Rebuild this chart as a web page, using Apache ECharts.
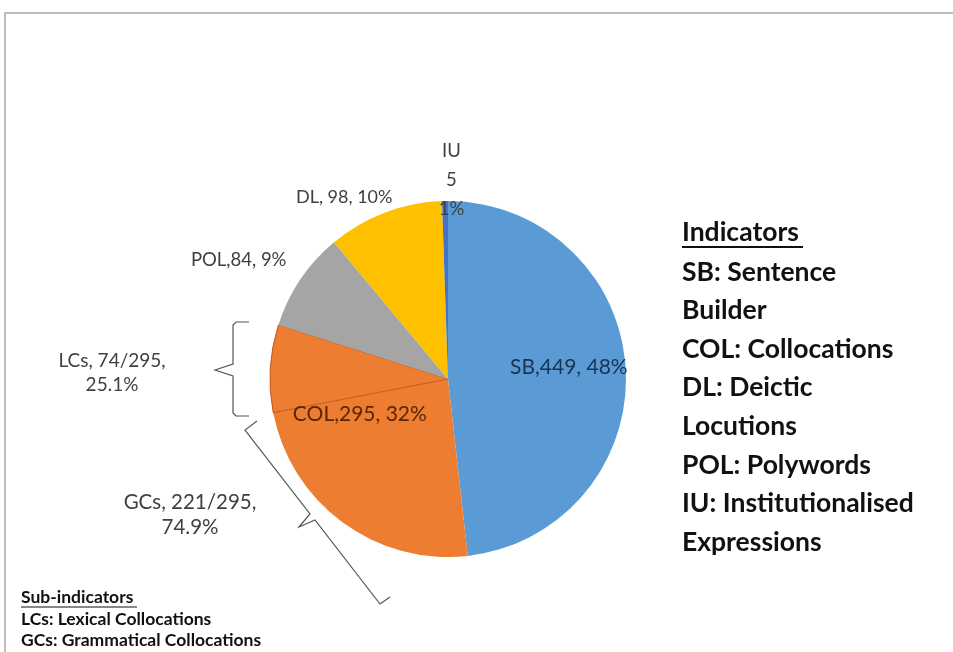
<!DOCTYPE html>
<html>
<head>
<meta charset="utf-8">
<script src="https://cdn.jsdelivr.net/npm/echarts@6/dist/echarts.min.js"></script>
<style>
  html, body { margin: 0; padding: 0; background: #fff; }
  #chart { width: 953px; height: 652px; }
</style>
</head>
<body>
<div id="chart"></div>
<script>
// ---- data ----
const categories = ['SB', 'COL', 'POL', 'DL', 'IU'];
const values = [449, 295, 84, 98, 5];
const percents = ['48%', '32%', '9%', '10%', '1%'];
const subCategories = ['GCs', 'LCs'];          // parts of COL, in drawing order
const subValues = [221, 74];
const subPercents = ['74.9%', '25.1%'];
const indicatorTitle = 'Indicators';
const indicatorLines = ['SB: Sentence', 'Builder', 'COL: Collocations', 'DL: Deictic',
  'Locutions', 'POL: Polywords', 'IU: Institutionalised', 'Expressions'];
const subIndicatorTitle = 'Sub-indicators';
const subIndicatorLines = ['LCs: Lexical Collocations', 'GCs: Grammatical Collocations'];

// ---- styles ----
const colors = ['#5b9bd5', '#ed7d31', '#a5a5a5', '#ffc000', '#4472c4'];
const labelColors = ['#1c3350', '#5a2606', '#404040', '#404040', '#404040'];
const labelSizes = [21, 21, 18.5, 18, 18.5];
const labelSeps = [[',', ', '], [',', ', '], [',', ', '], [', ', ', '], ['\n', '\n']];
const labelOffsets = [[29, -7], [-17, -23], [-133, -68], [-71, -96], [5, -107]];
const FONT = 'Lato, "Open Sans", sans-serif';
const center = [448, 379];
const radius = 178;

const totalCOL = values[categories.indexOf('COL')];

// base pie: COL split into its sub-indicators
const baseData = [];
categories.forEach((c, i) => {
  if (c === 'COL') {
    subCategories.forEach((s, j) => {
      baseData.push({
        name: s, value: subValues[j],
        itemStyle: j === subCategories.length - 1
          ? { color: colors[i], borderColor: '#c4581a', borderWidth: 1 }
          : { color: colors[i], borderWidth: 0 }
      });
    });
  } else {
    baseData.push({ name: c, value: values[i], itemStyle: { color: colors[i], borderWidth: 0 } });
  }
});

const labelData = categories.map((c, i) => ({
  name: c, value: values[i],
  itemStyle: { color: 'rgba(0,0,0,0)', borderWidth: 0 },
  label: { color: labelColors[i], fontSize: labelSizes[i] }
}));

const graphics = [];
// frame
graphics.push({ type: 'polyline', shape: { points: [[5, 652], [5, 13], [953, 13]] },
  style: { stroke: '#bdbdbd', lineWidth: 2, fill: null } });
// right-side indicator block
const BIG = 'bold 26.5px ' + FONT;
graphics.push({ type: 'text', style: { text: indicatorTitle, x: 682, y: 232, font: BIG,
  fill: '#111', align: 'left', verticalAlign: 'middle' } });
graphics.push({ type: 'line', shape: { x1: 682, y1: 247, x2: 803, y2: 247 }, style: { stroke: '#111', lineWidth: 2 } });
indicatorLines.forEach((t, k) => {
  graphics.push({ type: 'text', style: { text: t, x: 682, y: 272 + k * 38.6, font: BIG,
    fill: '#111', align: 'left', verticalAlign: 'middle' } });
});
// bottom-left sub-indicator block
const SMALL = 'bold 17.5px ' + FONT;
graphics.push({ type: 'text', style: { text: subIndicatorTitle, x: 21, y: 597, font: SMALL,
  fill: '#111', align: 'left', verticalAlign: 'middle' } });
graphics.push({ type: 'line', shape: { x1: 21, y1: 607, x2: 137, y2: 607 }, style: { stroke: '#111', lineWidth: 1.2 } });
subIndicatorLines.forEach((t, k) => {
  graphics.push({ type: 'text', style: { text: t, x: 21, y: 619 + k * 21, font: SMALL,
    fill: '#111', align: 'left', verticalAlign: 'middle' } });
});
// sub-indicator annotations with braces
const lcI = subCategories.indexOf('LCs'), gcI = subCategories.indexOf('GCs');
graphics.push({ type: 'text', style: {
  text: subCategories[lcI] + ', ' + subValues[lcI] + '/' + totalCOL + ',\n' + subPercents[lcI],
  x: 112, y: 373, font: '19px ' + FONT, fill: '#404040', align: 'center', verticalAlign: 'middle', lineHeight: 24 } });
graphics.push({ type: 'text', style: {
  text: subCategories[gcI] + ', ' + subValues[gcI] + '/' + totalCOL + ',\n' + subPercents[gcI],
  x: 190, y: 515, font: '20.5px ' + FONT, fill: '#404040', align: 'center', verticalAlign: 'middle', lineHeight: 25 } });
graphics.push({ type: 'polyline', shape: { points: [[249, 322], [236, 322], [233, 325], [233, 364], [215, 370],
  [233, 376], [233, 413], [236, 416], [249, 416]] }, style: { stroke: '#555', lineWidth: 1.2, fill: null } });
graphics.push({ type: 'polyline', shape: { points: [[257, 421], [245, 430], [310, 514], [299, 527], [315, 520],
  [380, 604], [390, 597]] }, style: { stroke: '#555', lineWidth: 1.2, fill: null } });

const chart = echarts.init(document.getElementById('chart'), null, { renderer: 'canvas' });
chart.setOption({
  backgroundColor: '#ffffff',
  animation: false,
  series: [
    {
      type: 'pie', center: center, radius: radius, startAngle: 90, clockwise: true,
      silent: true, label: { show: false }, labelLine: { show: false },
      data: baseData
    },
    {
      type: 'pie', center: center, radius: radius, startAngle: 90, clockwise: true,
      silent: true, avoidLabelOverlap: false, labelLine: { show: false },
      label: {
        show: true, position: 'inside', fontFamily: FONT, fontSize: 19, lineHeight: 29,
        formatter: p => categories[p.dataIndex] + labelSeps[p.dataIndex][0] + values[p.dataIndex] +
          labelSeps[p.dataIndex][1] + percents[p.dataIndex]
      },
      labelLayout: p => ({ dx: labelOffsets[p.dataIndex][0], dy: labelOffsets[p.dataIndex][1] }),
      data: labelData
    }
  ],
  graphic: { elements: graphics }
});
</script>
</body>
</html>
